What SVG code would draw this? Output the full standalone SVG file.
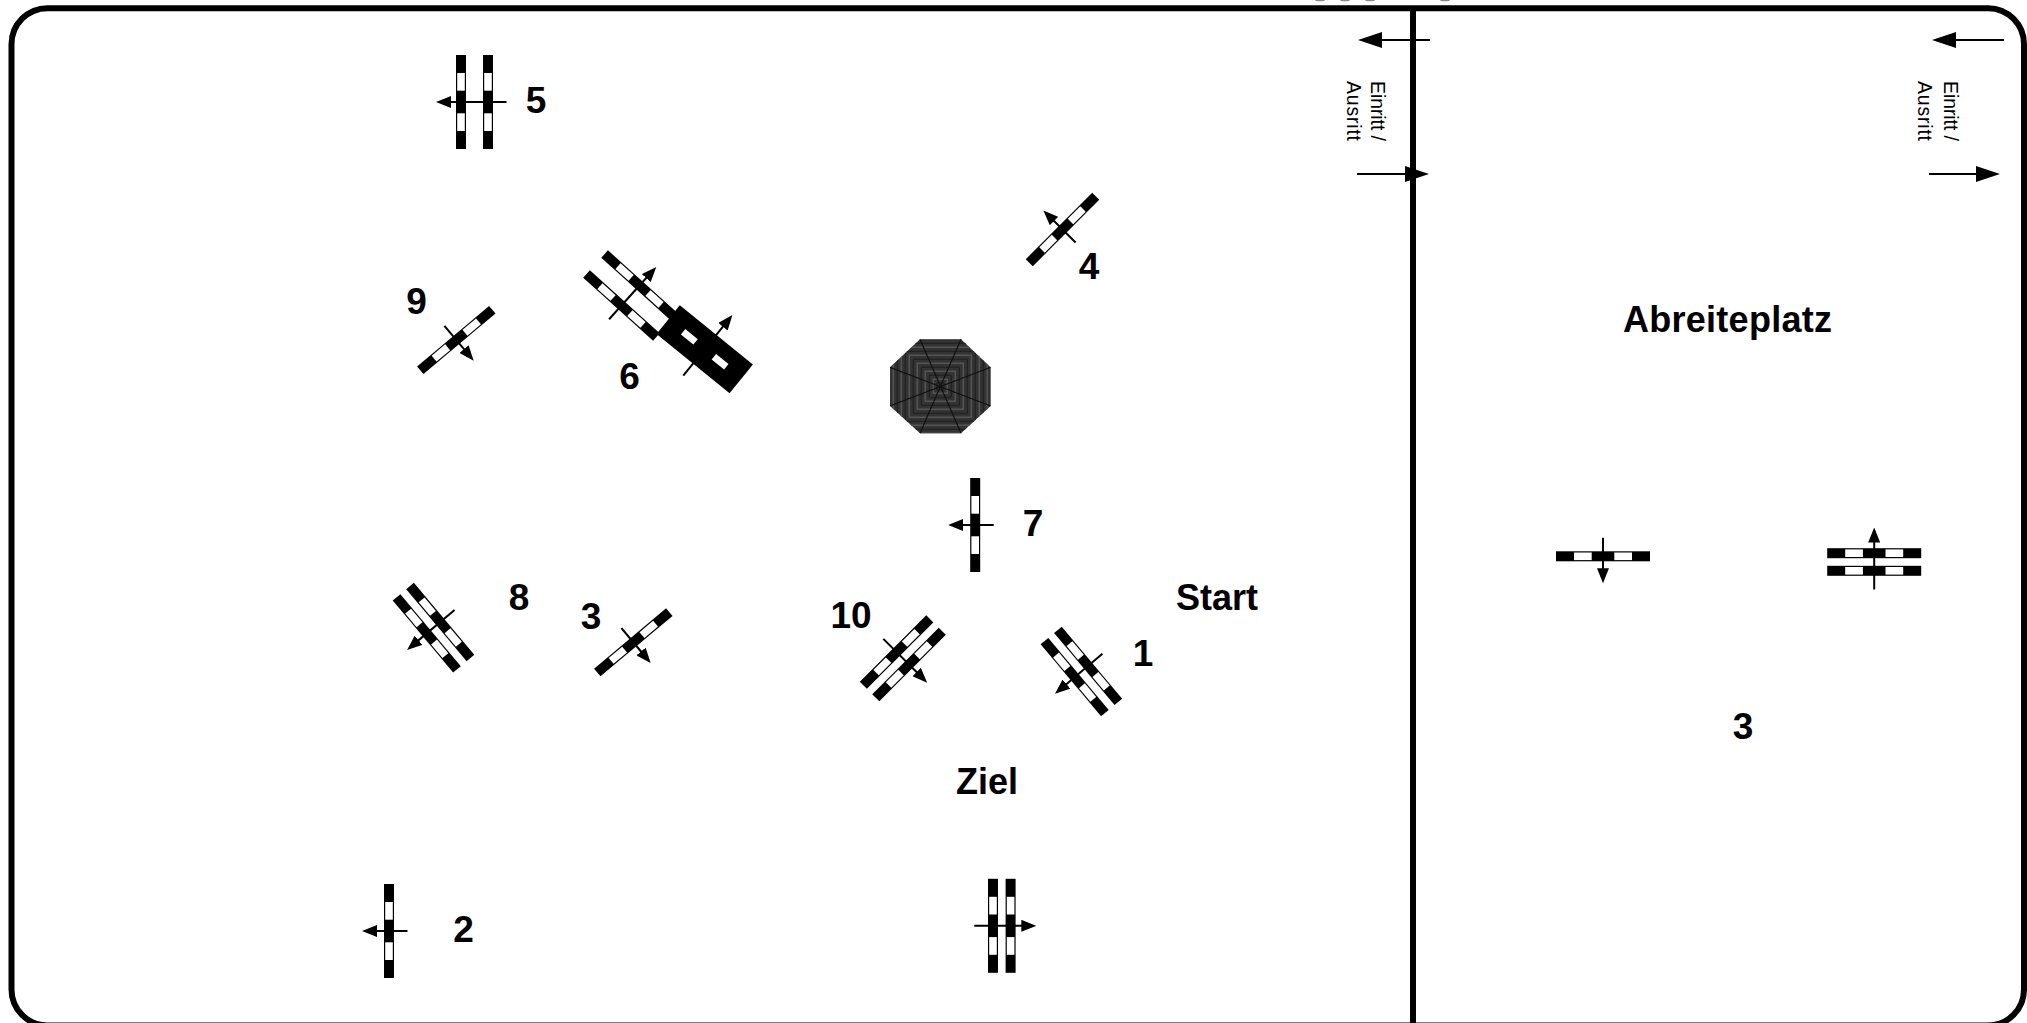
<svg xmlns="http://www.w3.org/2000/svg" width="2027" height="1023" viewBox="0 0 2027 1023">
<style>
.lbl{font-family:"Liberation Sans",Arial,sans-serif;font-weight:700;font-size:36px;fill:#000}
.num{text-anchor:middle;font-size:37px}
.small{font-family:"Liberation Sans",Arial,sans-serif;font-size:19.5px;fill:#000}
.ar{stroke:#000;stroke-width:2;fill:none}
.big{stroke:#000;stroke-width:2;fill:none;marker-end:url(#bigHead)}
.spk{stroke:#111;stroke-width:1.2;fill:none}
.rg{fill:none;stroke:#1e1e1e;stroke-width:1}
.rl{fill:none;stroke:#555;stroke-width:1.5}
</style>
<defs>
<marker id="bigHead" markerUnits="userSpaceOnUse" markerWidth="24" markerHeight="16" refX="1" refY="8" orient="auto"><path d="M0 0L24 8L0 16Z" fill="#000"/></marker>
<marker id="smallHead" markerUnits="userSpaceOnUse" markerWidth="15" markerHeight="12" refX="1" refY="6" orient="auto"><path d="M0 0L15 6L0 12Z" fill="#000"/></marker>
<g id="bar"><rect x="-47" y="-5" width="94" height="10" fill="#000"/><rect x="-29" y="-3.8" width="17.7" height="7.6" fill="#fff"/><rect x="11.3" y="-3.8" width="17.7" height="7.6" fill="#fff"/></g>
<g id="gate1"><use href="#bar"/><line class="ar" x1="0" y1="18.5" x2="0" y2="-13" marker-end="url(#smallHead)"/></g>
<g id="gateW"><use href="#bar" y="-13.5"/><use href="#bar" y="13.5"/><line class="ar" x1="0" y1="32" x2="0" y2="-24.5" marker-end="url(#smallHead)"/></g>
<g id="gateN"><use href="#bar" y="-8.8"/><use href="#bar" y="8.8"/><line class="ar" x1="0" y1="27.5" x2="0" y2="-20.5" marker-end="url(#smallHead)"/></g>
<clipPath id="octClip"><polygon points="920,339.3 961,339.3 990.7,367.3 990.7,406 961,433.3 920,433.3 890,406 890,367.3"/></clipPath>
</defs>
<rect width="2027" height="1023" fill="#fff"/>
<g id="cutoff-top" fill="#8a8a8a"><ellipse cx="1320" cy="0" rx="5" ry="1.3"/><ellipse cx="1345" cy="0" rx="5" ry="1.3"/><ellipse cx="1370" cy="0" rx="5" ry="1.3"/><ellipse cx="1445" cy="0" rx="5" ry="1.3"/></g>
<g id="frame"><rect x="11.5" y="8.2" width="2012.5" height="1017.3" rx="36" fill="none" stroke="#000" stroke-width="6"/><line x1="1413" y1="8" x2="1413" y2="1023" stroke="#000" stroke-width="6"/></g>
<g id="connectors">
<line class="big" x1="1430" y1="40" x2="1381" y2="40"/>
<line class="big" x1="1357" y1="174" x2="1406" y2="174"/>
<line class="big" x1="2004" y1="40" x2="1955" y2="40"/>
<line class="big" x1="1929" y1="174" x2="1977" y2="174"/>
</g>
<g id="obstacle-5"><use href="#gateW" transform="translate(474.5 102) rotate(-90)"/><text class="lbl num" x="536" y="113">5</text></g>
<g id="obstacle-9"><use href="#gate1" transform="translate(456.3 340) rotate(140)"/><text class="lbl num" x="416.5" y="314">9</text></g>
<g id="obstacle-6"><use href="#gateW" transform="translate(630.5 295.5) rotate(42)"/><g transform="translate(704.7 349.3) rotate(39)"><rect x="-47" y="-18.5" width="94" height="37" fill="#000"/><rect x="-27.8" y="-3.5" width="16" height="7" fill="#fff"/><rect x="11.8" y="-3.5" width="16" height="7" fill="#fff"/><line class="ar" x1="0" y1="34" x2="0" y2="-30" marker-end="url(#smallHead)"/></g><text class="lbl num" x="629.5" y="389">6</text></g>
<g id="obstacle-4"><use href="#gate1" transform="translate(1062.5 229.5) rotate(-45)"/><text class="lbl num" x="1089" y="279">4</text></g>
<g id="obstacle-7"><use href="#gate1" transform="translate(975.2 525) rotate(-90)"/><text class="lbl num" x="1033" y="536">7</text></g>
<g id="obstacle-8"><use href="#gateN" transform="translate(433.5 627.7) rotate(230)"/><text class="lbl num" x="519" y="610">8</text></g>
<g id="obstacle-3"><use href="#gate1" transform="translate(633.3 642.3) rotate(140)"/><text class="lbl num" x="591" y="629">3</text></g>
<g id="obstacle-10"><use href="#gateN" transform="translate(902.8 658.3) rotate(135)"/><text class="lbl num" x="851" y="628">10</text></g>
<g id="obstacle-1"><use href="#gateN" transform="translate(1081.4 671.5) rotate(230)"/><text class="lbl num" x="1143" y="666">1</text></g>
<g id="obstacle-2"><use href="#gate1" transform="translate(389 931) rotate(-90)"/><text class="lbl num" x="463.5" y="942">2</text></g>
<g id="obstacle-finish"><use href="#gateN" transform="translate(1001.8 925.8) rotate(90)"/></g>
<g id="warmup-single"><use href="#gate1" transform="translate(1603 556.3) rotate(180)"/></g>
<g id="warmup-double"><use href="#gateN" transform="translate(1874.2 562)"/></g>
<g id="octagon"><polygon points="920,339.3 961,339.3 990.7,367.3 990.7,406 961,433.3 920,433.3 890,406 890,367.3" fill="#333"/><g clip-path="url(#octClip)">
<path class="rl" d="M933.3 379.3h14v14h-14zM925.3 371.3h30v30h-30zM917.3 363.3h46v46h-46zM909.3 355.3h62v62h-62zM901.3 347.3h78v78h-78zM893.3 339.3h94v94h-94z"/>
<path class="rg" d="M936.8 382.8h7v7h-7zM929.3 375.3h22v22h-22zM921.3 367.3h38v38h-38zM913.3 359.3h54v54h-54zM905.3 351.3h70v70h-70zM897.3 343.3h86v86h-86z"/>
<path class="spk" d="M920 339.3L961 433.3M961 339.3L920 433.3M890 367.3L990.7 406M990.7 367.3L890 406"/></g></g>
<g id="labels">
<text class="lbl" x="1176" y="610">Start</text>
<text class="lbl" x="956" y="794">Ziel</text>
<text class="lbl" x="1623" y="332" textLength="209">Abreiteplatz</text>
<text class="lbl num" x="1743" y="739">3</text>
<text class="small" transform="translate(1371 81) rotate(90)" textLength="60">Einritt /</text>
<text class="small" transform="translate(1346.5 81) rotate(90)" textLength="60">Ausritt</text>
<text class="small" transform="translate(1944 81) rotate(90)" textLength="60">Einritt /</text>
<text class="small" transform="translate(1917.5 81) rotate(90)" textLength="60">Ausritt</text>
</g>
</svg>
